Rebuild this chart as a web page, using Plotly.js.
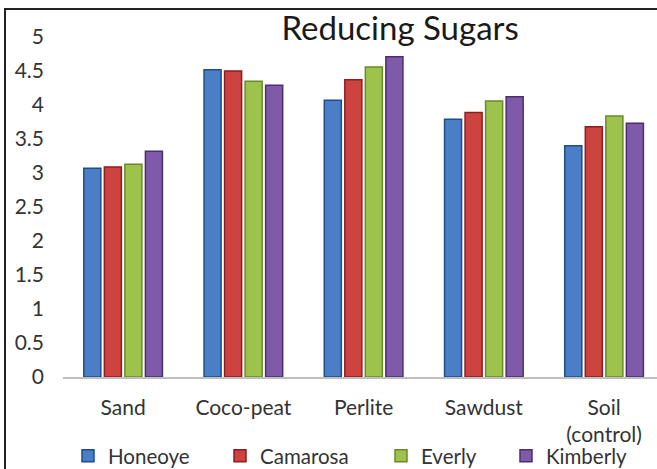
<!DOCTYPE html>
<html>
<head>
<meta charset="utf-8">
<script src="https://cdn.plot.ly/plotly-3.0.1.min.js"></script>
<style>
html, body { margin: 0; padding: 0; background: #fff; }
#wrap { position: relative; width: 657px; height: 469px; overflow: hidden; }
#frame { position: absolute; left: 4px; top: 8px; width: 700px; height: 600px; border-left: 2px solid #222; border-top: 2px solid #222; }
#chart { position: absolute; left: 0; top: 0; width: 657px; height: 469px; }
</style>
</head>
<body>
<div id="wrap">
<div id="frame"></div>
<div id="chart"></div>
</div>
<script>
const categories = ["Sand", "Coco-peat", "Perlite", "Sawdust", "Soil<br>(control)"];
const seriesNames = ["Honeoye", "Camarosa", "Everly", "Kimberly"];
const honeoye  = [3.07, 4.52, 4.07, 3.79, 3.40];
const camarosa = [3.09, 4.50, 4.37, 3.89, 3.68];
const everly   = [3.13, 4.35, 4.56, 4.06, 3.84];
const kimberly = [3.32, 4.29, 4.71, 4.12, 3.73];
const yTickVals = [0, 0.5, 1, 1.5, 2, 2.5, 3, 3.5, 4, 4.5, 5];
const yTickText = ["0", "0.5", "1", "1.5", "2", "2.5", "3", "3.5", "4", "4.5", "5"];

const fills = ["#4a7ec6", "#cc4340", "#9ec34c", "#7f5aa8"];
const edges = ["#1f4d8a", "#8a1f1f", "#6a8a2a", "#4a2f70"];
const values = [honeoye, camarosa, everly, kimberly];
const legendIds = ["legend", "legend2", "legend3", "legend4"];
const legendLeftPx = [68, 220, 381, 506];

const data = values.map((v, i) => ({
  type: "bar",
  name: seriesNames[i],
  x: categories,
  y: v,
  legend: legendIds[i],
  marker: { color: fills[i], line: { color: edges[i], width: 1.5 } },
  hoverinfo: "skip"
}));

const font = "Lato, 'Open Sans', sans-serif";
const layout = {
  width: 657, height: 469,
  margin: { l: 63, r: 0, t: 37, b: 92 },
  paper_bgcolor: "rgba(0,0,0,0)",
  plot_bgcolor: "rgba(0,0,0,0)",
  title: { text: "Reducing Sugars", x: 0.609, xanchor: "center", y: 0.94, yanchor: "middle",
           font: { family: font, size: 33, color: "#1a1a1a" } },
  barmode: "group",
  bargap: 0.317,
  bargroupgap: 0.17,
  showlegend: true,
  xaxis: {
    type: "category",
    range: [-0.5, 4.44],
    showline: true, linecolor: "#bfbfbf", linewidth: 1.5,
    showgrid: false, zeroline: false, ticks: "",
    tickfont: { family: font, size: 21, color: "#333" },
    ticklabelstandoff: 11,
    fixedrange: true
  },
  yaxis: {
    range: [0, 5],
    tickvals: yTickVals, ticktext: yTickText,
    showgrid: false, zeroline: false, showline: false, ticks: "",
    tickfont: { family: font, size: 21, color: "#333" },
    ticklabelstandoff: 18,
    fixedrange: true
  }
};
legendIds.forEach((id, i) => {
  layout[id] = {
    orientation: "h", xref: "container", yref: "container",
    x: legendLeftPx[i] / 657, xanchor: "left", y: 0.028, yanchor: "middle",
    font: { family: font, size: 20.5, color: "#333" }, itemwidth: 30,
    bgcolor: "rgba(0,0,0,0)"
  };
});

Plotly.newPlot("chart", data, layout, { staticPlot: true, displayModeBar: false });
</script>
</body>
</html>
